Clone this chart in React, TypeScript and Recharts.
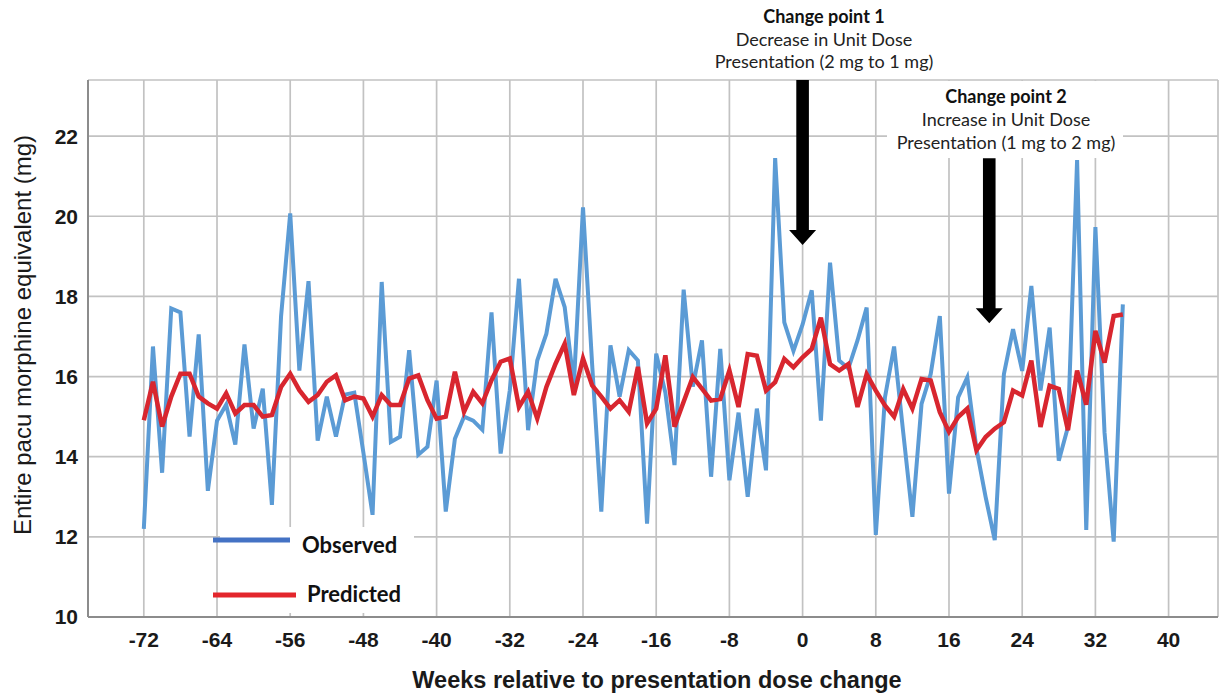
import React from "react";
import { LineChart, Line, XAxis, YAxis, CartesianGrid, ReferenceLine } from "recharts";

// weeks relative to the presentation dose change
const weeks = [
  -72, -71, -70, -69, -68, -67, -66, -65, -64, -63, -62, -61, -60, -59, -58, -57, -56, -55,
  -54, -53, -52, -51, -50, -49, -48, -47, -46, -45, -44, -43, -42, -41, -40, -39, -38, -37,
  -36, -35, -34, -33, -32, -31, -30, -29, -28, -27, -26, -25, -24, -23, -22, -21, -20, -19,
  -18, -17, -16, -15, -14, -13, -12, -11, -10, -9, -8, -7, -6, -5, -4, -3, -2, -1,
  0, 1, 2, 3, 4, 5, 6, 7, 8, 9, 10, 11, 12, 13, 14, 15, 16, 17,
  18, 19, 20, 21, 22, 23, 24, 25, 26, 27, 28, 29, 30, 31, 32, 33, 34, 35,
];

const observed = [
  12.2, 16.75, 13.6, 17.7, 17.6, 14.5, 17.05, 13.15, 14.9, 15.3, 14.3, 16.8, 14.7, 15.7, 12.8, 17.5, 20.07, 16.15,
  18.38, 14.4, 15.5, 14.5, 15.55, 15.6, 14.1, 12.55, 18.36, 14.37, 14.5, 16.66, 14.05, 14.25, 15.9, 12.63, 14.45, 15.0,
  14.9, 14.67, 17.6, 14.08, 15.66, 18.44, 14.66, 16.4, 17.07, 18.44, 17.73, 15.8, 20.22, 16.3, 12.63, 16.78, 15.5, 16.66,
  16.4, 12.33, 16.57, 15.6, 13.79, 18.17, 15.75, 16.9, 13.5, 16.69, 13.41, 15.1, 13.0, 15.2, 13.66, 21.45, 17.35, 16.64,
  17.3, 18.15, 14.9, 18.84, 16.4, 16.2, 16.9, 17.72, 12.05, 15.48, 16.75, 14.6, 12.5, 15.32, 16.06, 17.51, 13.08, 15.48,
  15.98, 14.2, 13.0, 11.92, 16.06, 17.18, 16.14, 18.26, 15.65, 17.22, 13.9, 14.74, 21.4, 12.17, 19.73, 14.6, 11.88, 17.8,
];

const predicted = [
  14.91, 15.87, 14.75, 15.5, 16.07, 16.07, 15.5, 15.33, 15.2, 15.58, 15.08, 15.29, 15.29, 15.0, 15.04, 15.74, 16.07, 15.66,
  15.37, 15.54, 15.87, 16.03, 15.41, 15.5, 15.45, 15.0, 15.54, 15.29, 15.29, 15.95, 16.03, 15.41, 14.95, 15.0, 16.12, 15.12,
  15.62, 15.33, 15.91, 16.37, 16.45, 15.24, 15.62, 14.95, 15.74, 16.32, 16.82, 15.54, 16.45, 15.78, 15.5, 15.2, 15.41, 15.12,
  16.24, 14.83, 15.2, 16.53, 14.75, 15.37, 15.99, 15.7, 15.4, 15.44, 16.15, 15.24, 16.56, 16.52, 15.65, 15.86, 16.44, 16.23,
  16.48, 16.69, 17.47, 16.31, 16.15, 16.31, 15.24, 16.06, 15.65, 15.28, 15.0, 15.69, 15.2, 15.94, 15.9, 15.11, 14.62, 14.99,
  15.2, 14.16, 14.49, 14.7, 14.86, 15.65, 15.53, 16.4, 14.74, 15.77, 15.69, 14.66, 16.15, 15.3, 17.14, 16.35, 17.51, 17.55,
];

const xTicks = [-72, -64, -56, -48, -40, -32, -24, -16, -8, 0, 8, 16, 24, 32, 40];
const yTicks = [10, 12, 14, 16, 18, 20, 22];

// arrows: week, top of shaft, tip (in mg)
const changePoints = [
  { week: 0, top: 23.4, tip: 19.28 },
  { week: 20.4, top: 21.45, tip: 17.33 },
];

const series = [
  { key: "observed", name: "Observed", color: "#5b9bd5", legendColor: "#4472c4", width: 4 },
  { key: "predicted", name: "Predicted", color: "#d8262f", legendColor: "#e3262c", width: 4.5 },
];

const data = weeks.map((week, i) => ({
  week,
  observed: observed[i],
  predicted: predicted[i],
}));

const tickStyle = {
  fill: "#1a1a1a",
  fontSize: 21,
  fontWeight: 700,
  fontFamily: "'Liberation Sans', Arial, sans-serif",
};

function Arrow(props: any) {
  const { x1, y1, y2 } = props;
  const shaft = 6.3;
  const head = 13.5;
  const headH = 15;
  const pts = [
    [x1 - shaft, y1],
    [x1 + shaft, y1],
    [x1 + shaft, y2 - headH],
    [x1 + head, y2 - headH],
    [x1, y2],
    [x1 - head, y2 - headH],
    [x1 - shaft, y2 - headH],
  ]
    .map((p) => p.join(","))
    .join(" ");
  return <polygon points={pts} fill="#000" />;
}

export default function App() {
  const note = { fontFamily: "Lato, 'Open Sans', sans-serif", fontSize: 18, fill: "#222", textAnchor: "middle" as const };
  const legendFont = { fontFamily: "Lato, 'Open Sans', sans-serif", fontWeight: 700, fontSize: 22, fill: "#111" };
  return (
    <div style={{ position: "fixed", left: 0, top: 0, width: 1227, height: 694, background: "#fff" }}>
      <LineChart width={1227} height={694} data={data} margin={{ top: 80, right: 9, bottom: 0, left: 0 }}>
        <CartesianGrid stroke="#c2c2c2" strokeWidth={1.7} />
        <XAxis
          type="number"
          dataKey="week"
          domain={[-78.1, 45.4]}
          ticks={xTicks}
          interval={0}
          allowDataOverflow
          height={77}
          tickLine={false}
          tickMargin={9}
          axisLine={{ stroke: "#8c8c8c", strokeWidth: 2 }}
          tick={tickStyle}
        />
        <YAxis
          type="number"
          domain={[10, 23.4]}
          ticks={yTicks}
          interval={0}
          allowDataOverflow
          width={88}
          tickLine={false}
          tickMargin={4}
          axisLine={{ stroke: "#8c8c8c", strokeWidth: 2 }}
          tick={tickStyle}
        />
        {series.map((s) => (
          <Line
            key={s.key}
            type="linear"
            dataKey={s.key}
            name={s.name}
            stroke={s.color}
            strokeWidth={s.width}
            dot={false}
            isAnimationActive={false}
          />
        ))}
        {changePoints.map((c) => (
          <ReferenceLine
            key={c.week}
            segment={[
              { x: c.week, y: c.top },
              { x: c.week, y: c.tip },
            ]}
            ifOverflow="visible"
            shape={(p: any) => <Arrow {...p} />}
          />
        ))}
      </LineChart>
      <svg
        width={1227}
        height={694}
        style={{ position: "absolute", left: 0, top: 0, pointerEvents: "none" }}
      >
        {/* legend */}
        <rect x={220} y={527} width={194} height={86} fill="#fff" />
        {series.map((s, i) => (
          <g key={s.key}>
            <line
              x1={213}
              y1={540 + i * 55}
              x2={290 + i * 6}
              y2={540 + i * 55}
              stroke={s.legendColor}
              strokeWidth={5}
            />
            <text x={302 + i * 5} y={553 + i * 49} {...legendFont}>
              {s.name}
            </text>
          </g>
        ))}

        <text x={824} y={23} {...note} fontWeight={700} fill="#111">Change point 1</text>
        <text x={824} y={46} {...note}>Decrease in Unit Dose</text>
        <text x={824} y={68} {...note}>Presentation (2 mg to 1 mg)</text>

        <rect x={887} y={81} width={236} height={77} fill="#fff" />
        <text x={1006} y={103} {...note} fontWeight={700} fill="#111">Change point 2</text>
        <text x={1006} y={126} {...note}>Increase in Unit Dose</text>
        <text x={1006} y={149} {...note}>Presentation (1 mg to 2 mg)</text>

        <text
          x={657}
          y={688}
          textAnchor="middle"
          fontFamily="'Liberation Sans', Arial, sans-serif"
          fontWeight={700}
          fontSize={23.5}
          fill="#1a1a1a"
        >
          Weeks relative to presentation dose change
        </text>
        <text
          transform="translate(22, 335) rotate(-90)"
          textAnchor="middle"
          dominantBaseline="central"
          fontFamily="'Liberation Sans', Arial, sans-serif"
          fontSize={24}
          fill="#1a1a1a"
        >
          Entire pacu morphine equivalent (mg)
        </text>
      </svg>
    </div>
  );
}
